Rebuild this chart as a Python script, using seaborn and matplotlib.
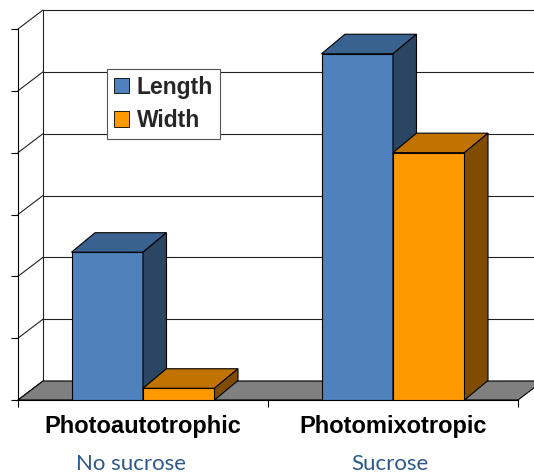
import matplotlib
matplotlib.use("Agg")
import matplotlib.pyplot as plt
from matplotlib.patches import Polygon
import seaborn as sns
import pandas as pd

# ---- data ----
categories = ["Photoautotrophic", "Photomixotropic"]
subtitles = ["No sucrose", "Sucrose"]
measures = ["Length", "Width"]
length_values = [2.39, 5.6]
width_values = [0.19, 4.0]
y_ticks = [0, 1, 2, 3, 4, 5, 6]

df = pd.DataFrame({
    "condition": categories * 2,
    "measure": ["Length"] * 2 + ["Width"] * 2,
    "value": length_values + width_values,
})

front_cols = {"Length": "#4F81BD", "Width": "#FF9900"}
top_cols = {"Length": "#3A6290", "Width": "#C07300"}
side_cols = {"Length": "#2B4563", "Width": "#7F4C00"}

sns.set_style("white")
plt.rcParams["font.family"] = ["Liberation Sans", "DejaVu Sans"]
ARIAL = ["Liberation Sans", "DejaVu Sans"]

W, H = 534, 476
fig = plt.figure(figsize=(W / 100, H / 100), dpi=100)

ax = fig.add_axes([18 / W, (H - 400) / H, 500 / W, 371 / H])
ax.patch.set_alpha(0)

sns.barplot(data=df, x="condition", y="value", hue="measure",
            palette=[front_cols["Length"], front_cols["Width"]],
            width=0.572, edgecolor="black", linewidth=0.8,
            saturation=1, ax=ax, legend=True)
ax.set_xlim(-0.5, 1.5)
ax.set_ylim(0, 6)

xpp = 2 / 500
ypp = 6 / 371
dxw, dyw = 25 * xpp, 19 * ypp
dxb, dyb = 23.5 * xpp, 19.5 * ypp

# floor
floor = Polygon([(-0.5, 0), (-0.5 + dxw, dyw), (1.5 + dxw, dyw), (1.5, 0)],
                closed=True, facecolor="#808080", edgecolor="black",
                linewidth=0.8, zorder=0.5, clip_on=False)
ax.add_patch(floor)

# back wall grid + left wall
for v in y_ticks:
    ax.plot([-0.5 + dxw, 1.5 + dxw * 2], [v + dyw, v + dyw], color="#222222",
            lw=0.8, zorder=0.4, clip_on=False)
    ax.plot([-0.5, -0.5 + dxw], [v, v + dyw], color="#222222", lw=0.8,
            zorder=0.4, clip_on=False)
ax.plot([-0.5 + dxw, -0.5 + dxw], [dyw, y_ticks[-1] + dyw], color="#222222",
        lw=0.8, zorder=0.4, clip_on=False)

# 3D faces for bars
bars = [p for p in ax.patches if p is not floor and p.get_height() > 0]
hue_for = {}
for p in bars:
    c = p.get_facecolor()
    name = "Length" if abs(c[0] - 0x4F / 255) < 0.05 else "Width"
    hue_for[id(p)] = name
bars_sorted = sorted(bars, key=lambda p: p.get_x())
for rank, p in enumerate(bars_sorted):
    name = hue_for[id(p)]
    x0, w, h = p.get_x(), p.get_width(), p.get_height()
    z = 2 + rank * 0.1
    p.set_zorder(z)
    top = Polygon([(x0, h), (x0 + dxb, h + dyb), (x0 + w + dxb, h + dyb), (x0 + w, h)],
                  closed=True, facecolor=top_cols[name], edgecolor="black",
                  linewidth=0.8, zorder=z, clip_on=False)
    side = Polygon([(x0 + w, 0), (x0 + w + dxb, dyb), (x0 + w + dxb, h + dyb), (x0 + w, h)],
                   closed=True, facecolor=side_cols[name], edgecolor="black",
                   linewidth=0.8, zorder=z, clip_on=False)
    ax.add_patch(top)
    ax.add_patch(side)

# spines / ticks
for s in ["top", "right"]:
    ax.spines[s].set_visible(False)
for s in ["left", "bottom"]:
    ax.spines[s].set_color("black")
    ax.spines[s].set_linewidth(0.8)
    ax.spines[s].set_zorder(1)
ax.set_yticks(y_ticks)
ax.set_yticklabels([])
ax.tick_params(axis="y", length=5, width=0.8, direction="out", color="black", left=True)
ax.set_xticks([0, 1])
ax.set_xticklabels([])
ax.set_xticks([-0.5, 0.5, 1.5], minor=True)
ax.tick_params(axis="x", which="major", length=0)
ax.tick_params(axis="x", which="minor", length=5, width=0.8, direction="out",
               color="black", bottom=True)
ax.set_xlabel("")
ax.set_ylabel("")

tr = ax.get_xaxis_transform()
sub_shift = [-12 * xpp, -3 * xpp]
for i, (cat, sub) in enumerate(zip(categories, subtitles)):
    ax.text(i, -(427 - 400) / 371, cat, transform=tr, ha="center", va="center",
            fontsize=17, fontweight="bold", color="black", family=ARIAL,
            clip_on=False)
    ax.text(i + sub_shift[i], -(464 - 400) / 371, sub, transform=tr,
            ha="center", va="center",
            fontsize=16, color="#2D5A8A", family=["Lato", "DejaVu Sans"],
            clip_on=False)

# legend
sns.move_legend(ax, loc="upper left",
                bbox_to_anchor=(107 / W, 1 - 69 / H), bbox_transform=fig.transFigure,
                title=None, frameon=True, fancybox=False, framealpha=1,
                edgecolor="#555555", handlelength=0.65, handleheight=0.65,
                handletextpad=0.35, borderpad=0.3, labelspacing=0.45,
                borderaxespad=0,
                prop={"weight": "bold", "size": 16.5, "family": ARIAL})
leg = ax.get_legend()
leg.set_zorder(5)
leg.get_frame().set_linewidth(0.8)
for hnd in leg.legend_handles:
    hnd.set_edgecolor("black")
    hnd.set_linewidth(0.6)

fig.savefig("out.png", dpi=100, facecolor="white")
